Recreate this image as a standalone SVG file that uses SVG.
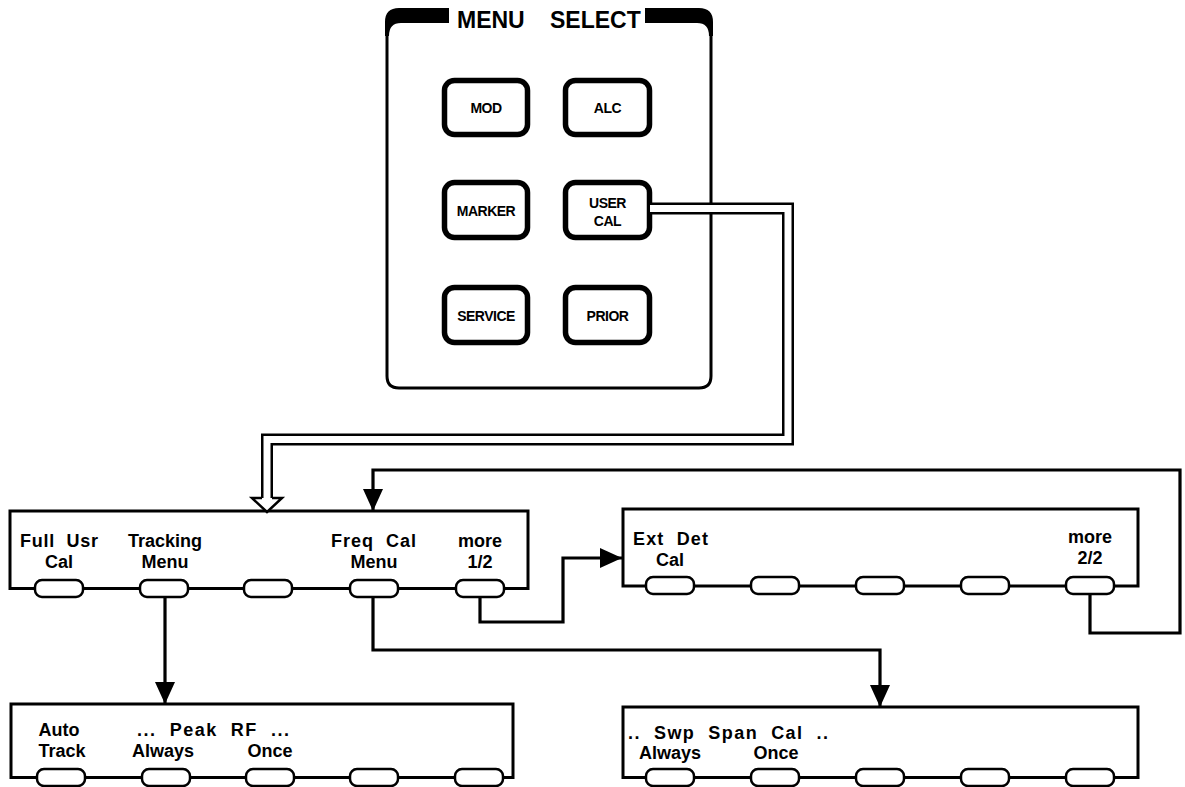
<svg xmlns="http://www.w3.org/2000/svg" width="1185" height="787" viewBox="0 0 1185 787">
<style>
.box{fill:none;stroke:#000;stroke-width:3}
.key{fill:#fff;stroke:#000;stroke-width:2.5}
.btn{fill:#fff;stroke:#000;stroke-width:5.5}
.lbl{font-family:"Liberation Sans",Arial,sans-serif;font-weight:bold;font-size:18px;fill:#000;white-space:pre}
.mid{text-anchor:middle}
.bl{font-family:"Liberation Sans",Arial,sans-serif;font-weight:bold;font-size:14px;fill:#000;text-anchor:middle;letter-spacing:-0.5px}
.ttl{font-family:"Liberation Sans",Arial,sans-serif;font-weight:bold;font-size:23px;fill:#000}
.conn{fill:none;stroke:#000;stroke-width:3.2;stroke-linejoin:miter}
</style>
<defs>
<marker id="ah" markerUnits="userSpaceOnUse" markerWidth="22" markerHeight="20" refX="22" refY="10" orient="auto"><path d="M0,0 L22,10 L0,20 Z" fill="#000"/></marker>
</defs>
<rect width="1185" height="787" fill="#fff"/>

<g id="menu-select">
<path d="M387,30 V376 Q387,388 399,388 H699 Q711,388 711,376 V30" fill="none" stroke="#000" stroke-width="3"/>
<path d="M385,36 V22 Q385,8 399,8 H449 V23 H401 Q389,23 389,36 Z" fill="#000"/>
<path d="M645,8 H699 Q713,8 713,22 V36 H709 Q709,23 697,23 H645 Z" fill="#000"/>
<text class="ttl" x="457" y="28">MENU</text>
<text class="ttl" x="550" y="28">SELECT</text>
</g>

<g id="btn-mod"><rect class="btn" x="444.5" y="80.5" width="83" height="54" rx="10"/><text class="bl" x="486" y="113">MOD</text></g>
<g id="btn-alc"><rect class="btn" x="565.5" y="80.5" width="84" height="54" rx="10"/><text class="bl" x="607.5" y="113">ALC</text></g>
<g id="btn-marker"><rect class="btn" x="444.5" y="182.5" width="83" height="55" rx="10"/><text class="bl" x="486" y="216">MARKER</text></g>
<g id="btn-usercal"><rect class="btn" x="565.5" y="182.5" width="84" height="55" rx="10"/><text class="bl" x="607.5" y="208">USER</text><text class="bl" x="607.5" y="226">CAL</text></g>
<g id="btn-service"><rect class="btn" x="444.5" y="287.5" width="83" height="55" rx="10"/><text class="bl" x="486" y="321">SERVICE</text></g>
<g id="btn-prior"><rect class="btn" x="565.5" y="287.5" width="84" height="55" rx="10"/><text class="bl" x="607.5" y="321">PRIOR</text></g>

<g id="menu-usercal-1">
<rect class="box" x="10" y="511" width="518" height="77.5"/>
<rect class="key" x="35" y="580" width="48" height="17" rx="7"/>
<rect class="key" x="140" y="580" width="48" height="17" rx="7"/>
<rect class="key" x="244" y="580" width="48" height="17" rx="7"/>
<rect class="key" x="350" y="580" width="48" height="17" rx="7"/>
<rect class="key" x="456" y="580" width="48" height="17" rx="7"/>
<text class="lbl" x="20" y="547" textLength="78" lengthAdjust="spacing">Full  Usr</text>
<text class="lbl mid" x="59" y="568">Cal</text>
<text class="lbl mid" x="165" y="547">Tracking</text>
<text class="lbl mid" x="165" y="568">Menu</text>
<text class="lbl" x="331" y="547" textLength="85" lengthAdjust="spacing">Freq  Cal</text>
<text class="lbl mid" x="374" y="568">Menu</text>
<text class="lbl mid" x="480" y="547">more</text>
<text class="lbl mid" x="480" y="568">1/2</text>
</g>

<g id="menu-usercal-2">
<rect class="box" x="623" y="509" width="515" height="77"/>
<rect class="key" x="646" y="577" width="48" height="17" rx="7"/>
<rect class="key" x="751" y="577" width="48" height="17" rx="7"/>
<rect class="key" x="856" y="577" width="48" height="17" rx="7"/>
<rect class="key" x="961" y="577" width="48" height="17" rx="7"/>
<rect class="key" x="1066" y="577" width="48" height="17" rx="7"/>
<text class="lbl" x="633" y="545" textLength="75" lengthAdjust="spacing">Ext  Det</text>
<text class="lbl mid" x="670" y="566">Cal</text>
<text class="lbl mid" x="1090" y="543">more</text>
<text class="lbl mid" x="1090" y="564">2/2</text>
</g>

<g id="menu-tracking">
<rect class="box" x="11" y="704" width="502" height="73.5"/>
<rect class="key" x="37" y="769" width="48" height="17" rx="7"/>
<rect class="key" x="142" y="769" width="48" height="17" rx="7"/>
<rect class="key" x="246" y="769" width="48" height="17" rx="7"/>
<rect class="key" x="350" y="769" width="48" height="17" rx="7"/>
<rect class="key" x="455" y="769" width="48" height="17" rx="7"/>
<text class="lbl mid" x="59" y="736">Auto</text>
<text class="lbl mid" x="62" y="757">Track</text>
<text class="lbl" x="137" y="736" textLength="152" lengthAdjust="spacing">...  Peak  RF  ...</text>
<text class="lbl mid" x="163" y="757">Always</text>
<text class="lbl mid" x="270" y="757">Once</text>
</g>

<g id="menu-freqcal">
<rect class="box" x="623" y="707" width="515" height="70.5"/>
<rect class="key" x="646" y="769" width="48" height="17" rx="7"/>
<rect class="key" x="751" y="769" width="48" height="17" rx="7"/>
<rect class="key" x="856" y="769" width="48" height="17" rx="7"/>
<rect class="key" x="961" y="769" width="48" height="17" rx="7"/>
<rect class="key" x="1066" y="769" width="48" height="17" rx="7"/>
<text class="lbl" x="628" y="739" textLength="200" lengthAdjust="spacing">..  Swp  Span  Cal  ..</text>
<text class="lbl mid" x="670" y="759">Always</text>
<text class="lbl mid" x="776" y="759">Once</text>
</g>

<g id="connectors">
<path d="M652,208.5 H788 V439.5 H267 V498" fill="none" stroke="#000" stroke-width="12"/>
<path d="M650,208.5 H788 V439.5 H267 V499" fill="none" stroke="#fff" stroke-width="7"/>
<path d="M262,498 H252 L267,512 L282,498 H272" fill="#fff" stroke="#000" stroke-width="2.5" stroke-linejoin="miter"/>
<path class="conn" d="M1090,594 V633 H1180 V470 H373 V511" marker-end="url(#ah)"/>
<path class="conn" d="M480,597 V622 H563 V558 H622" marker-end="url(#ah)"/>
<path class="conn" d="M165,597 V704" marker-end="url(#ah)"/>
<path class="conn" d="M373,597 V650 H880 V707" marker-end="url(#ah)"/>
</g>
</svg>
